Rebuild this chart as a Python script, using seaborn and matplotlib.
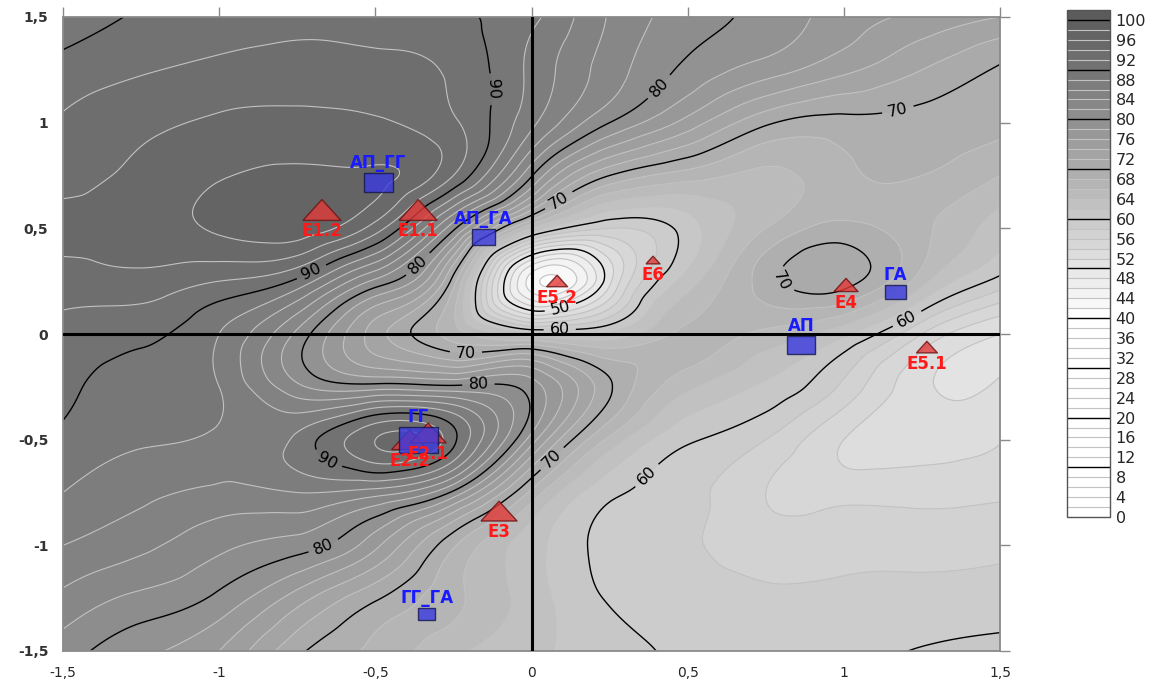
import numpy as np
import pandas as pd
import matplotlib
matplotlib.use("Agg")
import matplotlib.pyplot as plt
import matplotlib.tri as mtri
from matplotlib.colors import LinearSegmentedColormap, Normalize
from matplotlib.markers import MarkerStyle
import seaborn as sns

# ---------------- data ----------------
grid_x = [-1.5, -1.25, -1.0, -0.75, -0.5, -0.25, 0.0, 0.25, 0.5, 0.75, 1.0, 1.25, 1.5]
grid_y = [1.5, 1.25, 1.0, 0.75, 0.5, 0.25, 0.0, -0.25, -0.5, -0.75, -1.0, -1.25, -1.5]

row_p150 = [88.5, 90.3, 91.0, 91.5, 91.2, 90.3, 88.5, 83.8, 81.1, 79.3, 77.0, 75.5, 74.0]
row_p125 = [90.8, 91.8, 92.5, 92.8, 92.6, 91.6, 87.5, 83.0, 79.5, 77.0, 74.5, 72.0, 69.7]
row_p100 = [92.2, 93.5, 94.3, 94.6, 94.3, 92.3, 86.5, 80.0, 75.2, 70.4, 69.3, 69.3, 68.5]
row_p075 = [93.3, 94.5, 95.8, 96.5, 96.3, 92.0, 80.2, 70.0, 67.0, 65.5, 67.5, 68.0, 66.0]
row_p050 = [94.5, 95.0, 96.3, 97.0, 93.0, 80.5, 64.0, 58.0, 61.0, 66.0, 68.6, 66.5, 63.0]
row_p025 = [93.0, 93.3, 92.0, 89.5, 81.5, 69.0, 43.0, 51.5, 63.0, 69.0, 70.8, 64.8, 59.3]
row_000 = [91.5, 90.5, 88.0, 81.5, 73.0, 67.0, 62.5, 62.5, 66.5, 65.5, 62.5, 56.0, 52.0]
row_m025 = [90.6, 89.3, 88.0, 82.5, 81.0, 80.5, 79.0, 70.3, 64.5, 61.6, 57.5, 52.5, 52.5]
row_m050 = [89.5, 88.3, 87.5, 88.5, 94.0, 90.5, 77.0, 65.5, 60.3, 58.0, 54.0, 53.0, 53.9]
row_m075 = [88.0, 86.5, 85.5, 86.0, 85.0, 79.5, 67.5, 60.5, 58.7, 56.0, 55.3, 55.3, 55.6]
row_m100 = [86.0, 84.5, 82.5, 81.0, 76.5, 68.3, 62.8, 59.2, 58.2, 57.0, 57.2, 57.2, 57.5]
row_m125 = [83.5, 81.5, 79.5, 75.0, 70.3, 66.5, 63.0, 59.8, 58.8, 58.3, 58.6, 58.8, 59.0]
row_m150 = [81.0, 78.5, 76.0, 70.5, 67.5, 64.5, 62.5, 60.8, 59.6, 59.0, 59.4, 60.1, 60.5]
field_rows = [row_p150, row_p125, row_p100, row_p075, row_p050, row_p025, row_000,
              row_m025, row_m050, row_m075, row_m100, row_m125, row_m150]

square_names = ["АП_ГГ", "АП_ГА", "ГА", "АП", "ГГ", "ГГ_ГА"]
square_x = [-0.491, -0.155, 1.164, 0.863, -0.363, -0.335]
square_y = [0.715, 0.459, 0.199, -0.052, -0.502, -1.325]
square_w = [29, 23, 21, 28, 39, 17]

tri_names = ["E1.2", "E1.1", "E5.2", "E6", "E4", "E5.1", "E2.2", "E2.1", "E3"]
tri_x = [-0.671, -0.363, 0.082, 0.389, 1.007, 1.266, -0.39, -0.331, -0.104]
tri_y = [0.587, 0.587, 0.251, 0.350, 0.232, -0.062, -0.50, -0.468, -0.838]
tri_w = [38, 38, 21, 14, 24, 21, 36, 36, 36]

cbar_ticks = list(range(0, 101, 4))
axis_ticks = [-1.5, -1.0, -0.5, 0.0, 0.5, 1.0, 1.5]
axis_ticklabels = ["-1,5", "-1", "-0,5", "0", "0,5", "1", "1,5"]

label_pos = {90: [(-0.095, 1.16), (-0.70, 0.28), (-0.645, -0.57)],
             80: [(0.405, 1.174), (-0.39, 0.37), (-0.17, -0.24), (-0.67, -0.99)],
             70: [(1.16, 1.145), (0.066, 0.68), (-0.21, -0.095), (0.053, -0.57), (0.80, 0.25)],
             60: [(0.09, 0.057), (1.196, 0.09), (0.37, -0.67)],
             50: [(0.08, 0.20)]}

# ---------------- figure ----------------
sns.set_style("white")
plt.rcParams["font.family"] = ["DejaVu Sans"]

fig = plt.figure(figsize=(11.58, 6.80), dpi=100)
ax = fig.add_axes([63 / 1158, 29 / 680, 937 / 1158, 634 / 680])
cax = fig.add_axes([1067 / 1158, 163 / 680, 43 / 1158, 507 / 680])

gx, gy = np.meshgrid(np.array(grid_x), np.array(grid_y))
gz = np.array(field_rows, dtype=float)
triang = mtri.Triangulation(gx.ravel(), gy.ravel())
interp = mtri.CubicTriInterpolator(triang, gz.ravel(), kind="min_E")
fine = np.linspace(-1.4999, 1.4999, 301)
FX, FY = np.meshgrid(fine, fine)
FZ = np.ma.filled(interp(FX, FY), np.nan)

cmap = LinearSegmentedColormap.from_list(
    "greys_custom",
    [(0.0, "#ffffff"), (40 / 102, "#ffffff"), (50 / 102, "#e6e6e6"), (60 / 102, "#cacaca"),
     (70 / 102, "#adadad"), (80 / 102, "#909090"), (90 / 102, "#757575"), (1.0, "#595959")])
norm = Normalize(0, 102)
fill_levels = np.arange(0, 103, 2)
major_levels = np.arange(10, 101, 10)
minor_levels = np.array([v for v in range(2, 102, 2) if v % 10 != 0])

cf = ax.contourf(FX, FY, FZ, levels=fill_levels, cmap=cmap, norm=norm, zorder=0)
cs_minor = ax.contour(FX, FY, FZ, levels=minor_levels, colors="#c2c2c2", linewidths=0.8, zorder=1)
cs_major = ax.contour(FX, FY, FZ, levels=major_levels, colors="black", linewidths=1.0, zorder=2)

manual = [p for lv in label_pos for p in label_pos[lv]]
ax.clabel(cs_major, manual=manual, fmt="%d", fontsize=11.5, inline=True, inline_spacing=6)

ax.axhline(0, color="black", lw=2.2, zorder=3)
ax.axvline(0, color="black", lw=2.2, zorder=3)

# markers
tri_marker = MarkerStyle([(-1, -0.55), (1, -0.55), (0, 0.55), (-1, -0.55)])
sq_marker = MarkerStyle([(-1, -0.66), (1, -0.66), (1, 0.66), (-1, 0.66), (-1, -0.66)])

df_tri = pd.DataFrame({"x": tri_x, "y": tri_y, "w": tri_w, "name": tri_names})
df_sq = pd.DataFrame({"x": square_x, "y": square_y, "w": square_w, "name": square_names})

sns.scatterplot(data=df_tri, x="x", y="y", marker=tri_marker, s=(df_tri["w"] * 0.72) ** 2,
                color="#e23a3a", alpha=0.8, edgecolor="#6b1010", linewidth=1.0, ax=ax,
                zorder=5, legend=False)
sns.scatterplot(data=df_sq, x="x", y="y", marker=sq_marker, s=(df_sq["w"] * 0.72) ** 2,
                color="#3a3ae0", alpha=0.8, edgecolor="#15154a", linewidth=1.0, ax=ax,
                zorder=6, legend=False)

for _, r in df_tri.iterrows():
    off = (r["w"] * 0.55 / 2 + 11) * 0.72
    ax.annotate(r["name"], (r["x"], r["y"]), xytext=(0, -off), textcoords="offset points",
                ha="center", va="center", color="#ff1a1a", fontweight="bold",
                fontsize=12, zorder=7)
for _, r in df_sq.iterrows():
    off = (r["w"] * 0.66 / 2 + 10) * 0.72
    ax.annotate(r["name"], (r["x"], r["y"]), xytext=(0, off), textcoords="offset points",
                ha="center", va="center", color="#1a1aff", fontweight="bold",
                fontsize=12, zorder=7)

ax.set_xlim(-1.5, 1.5)
ax.set_ylim(-1.5, 1.5)
ax.set_xticks(axis_ticks)
ax.set_xticklabels(axis_ticklabels, fontsize=10)
ax.set_yticks(axis_ticks)
ax.set_yticklabels(axis_ticklabels, fontsize=10, fontweight="bold", color="#333333")
ax.set_xlabel("")
ax.set_ylabel("")
ax.tick_params(direction="out", length=7, width=1, color="#8a8a8a", top=True, right=True,
               labeltop=False, labelright=False)
for sp in ax.spines.values():
    sp.set_visible(True)
    sp.set_color("#8a8a8a")
    sp.set_linewidth(1.3)

# colorbar
cbar = fig.colorbar(cf, cax=cax, ticks=cbar_ticks)
cbar.add_lines(cs_minor, erase=False)
cbar.add_lines(cs_major, erase=False)
cbar.ax.tick_params(length=0, labelsize=11.5, pad=4)
cbar.outline.set_edgecolor("#555555")
cbar.outline.set_linewidth(1.0)

fig.savefig("out.png", dpi=100)
